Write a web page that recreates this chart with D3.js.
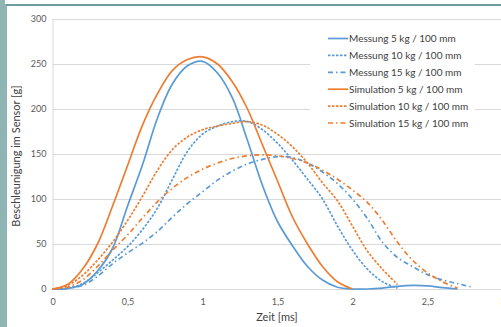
<!DOCTYPE html>
<html>
<head>
<meta charset="utf-8">
<script src="https://cdn.jsdelivr.net/npm/d3@7"></script>
<style>
  body { margin: 0; background: #fff; }
  text { font-family: Lato, "Open Sans", sans-serif; }
</style>
</head>
<body>
<div id="chart"></div>
<script>
// Zeitachse in ms (gemeinsames Raster)
var zeit = [0, 0.1, 0.2, 0.3, 0.4, 0.5, 0.6, 0.7, 0.8, 0.9, 1.0, 1.1, 1.2, 1.3, 1.4,
            1.5, 1.6, 1.7, 1.8, 1.9, 2.0, 2.1, 2.2, 2.3, 2.4, 2.5, 2.6, 2.7, 2.8, 2.9];

var messung5 = [0, 0.5, 5, 20, 45, 92, 138, 190, 228, 248, 253, 240, 212, 165, 115,
                75, 48, 25, 10, 2, 0, 0, 1, 3, 4, 3.5, 1.5, 0, null, null];
var messung10 = [0, 1, 6, 18, 32, 47, 66, 90, 122, 153, 172, 181, 186, 186, 177,
                 162, 143, 122, 100, 70, 43, 22, 8, 1, null, null, null, null, null, null];
var messung15 = [0, 1, 4, 14, 28, 40, 51, 64, 80, 95, 108, 121, 131, 139, 144,
                 147, 146, 140, 130, 117, 100, 78, 52, 35, 25, 16, 10, 6, 2, null];
var simulation5 = [0, 5, 22, 50, 92, 137, 182, 217, 243, 255, 258, 250, 230, 200, 160,
                   120, 80, 50, 25, 8, 0, null, null, null, null, null, null, null, null, null];
var simulation10 = [0, 4, 15, 32, 52, 76, 103, 132, 155, 169, 177, 181, 184, 186, 182,
                    172, 158, 140, 118, 98, 70, 42, 22, 5, null, null, null, null, null, null];
var simulation15 = [0, 2, 10, 25, 43, 60, 79, 97, 112, 124, 133, 140, 145, 148, 149,
                    148, 145, 140, 132, 122, 110, 96, 76, 52, 32, 18, 8, 1, null, null];

var serienNamen = ["Messung 5 kg / 100 mm", "Messung 10 kg / 100 mm", "Messung 15 kg / 100 mm",
                   "Simulation 5 kg / 100 mm", "Simulation 10 kg / 100 mm", "Simulation 15 kg / 100 mm"];
var serienWerte = [messung5, messung10, messung15, simulation5, simulation10, simulation15];

var xTicks = [0, 0.5, 1, 1.5, 2, 2.5, 3];
var yTicks = [0, 50, 100, 150, 200, 250, 300];

var width = 501;
var height = 327;
var blau = "#5b9bd5";
var orange = "#ed7d31";
var farben = [blau, blau, blau, orange, orange, orange];
var striche = [null, "2.5,1.5", "5,3,1.5,3", null, "2.5,1.5", "5,3,1.5,3"];

var svg = d3.select("#chart")
            .append("svg")
            .attr("width", width)
            .attr("height", height);

// Rahmen
svg.append("rect").attr("x", 0).attr("y", 0).attr("width", 5).attr("height", height).attr("fill", "#8fb4b4");
svg.append("line").attr("x1", 6).attr("x2", 6).attr("y1", 4).attr("y2", height).attr("stroke", "#6c9c9e").attr("stroke-width", 1.5);
svg.append("line").attr("x1", 6).attr("x2", width).attr("y1", 5).attr("y2", 5).attr("stroke", "#6c9c9e").attr("stroke-width", 2);

var x = d3.scaleLinear().domain([0, 3]).range([52.5, 502.5]);
var y = d3.scaleLinear().domain([0, 300]).range([289, 19]);

// Gitterlinien
svg.append("g")
    .selectAll("line")
    .data(yTicks)
    .enter()
    .append("line")
    .attr("x1", x(0))
    .attr("x2", width)
    .attr("y1", (d) => y(d) + 0.5)
    .attr("y2", (d) => y(d) + 0.5)
    .attr("stroke", "#d9d9d9")
    .attr("stroke-width", 1);

svg.append("line")
    .attr("x1", x(0) + 0.5).attr("x2", x(0) + 0.5)
    .attr("y1", y(300)).attr("y2", y(0))
    .attr("stroke", "#d9d9d9");

// Achsen
var yaxis = d3.axisLeft(y).tickValues(yTicks).tickSize(0).tickPadding(6);
var xaxis = d3.axisBottom(x).tickValues(xTicks).tickSize(0).tickPadding(10)
              .tickFormat((d) => String(d).replace(".", ","));

var gy = svg.append("g").attr("transform", "translate(" + x(0) + ",0)").call(yaxis);
var gx = svg.append("g").attr("transform", "translate(0," + y(0) + ")").call(xaxis);
[gx, gy].forEach(function(g) {
    g.select(".domain").remove();
    g.selectAll("text").attr("fill", "#595959").style("font-size", "9px");
});

svg.append("text")
    .attr("x", 277)
    .attr("y", 321)
    .attr("text-anchor", "middle")
    .attr("fill", "#404040")
    .style("font-size", "11px")
    .text("Zeit [ms]");

svg.append("text")
    .attr("transform", "translate(20,156) rotate(-90)")
    .attr("text-anchor", "middle")
    .attr("fill", "#404040")
    .style("font-size", "11px")
    .text("Beschleunigung im Sensor [g]");

// Kurven
var line = d3.line()
             .defined((d) => d[1] !== null)
             .x((d) => x(d[0]))
             .y((d) => y(Math.max(d[1], 0)))
             .curve(d3.curveCatmullRom.alpha(0.5));

svg.append("g")
    .selectAll("path")
    .data(serienWerte)
    .enter()
    .append("path")
    .attr("d", (d) => line(zeit.map((t, i) => [t, d[i]])))
    .attr("fill", "none")
    .attr("stroke", (d, i) => farben[i])
    .attr("stroke-width", 1.7)
    .attr("stroke-dasharray", (d, i) => striche[i]);

// Legende
var legende = svg.append("g");
legende.append("rect")
    .attr("x", 310).attr("y", 27).attr("width", 165).attr("height", 110)
    .attr("fill", "#fff");

var zeilen = legende.selectAll("g")
    .data(serienNamen)
    .enter()
    .append("g")
    .attr("transform", (d, i) => "translate(0," + (38.5 + i * 16.9) + ")");

zeilen.append("line")
    .attr("x1", 328).attr("x2", 348)
    .attr("y1", 0).attr("y2", 0)
    .attr("stroke", (d, i) => farben[i])
    .attr("stroke-width", 1.7)
    .attr("stroke-dasharray", (d, i) => striche[i]);

zeilen.append("text")
    .attr("x", 349)
    .attr("y", 3.5)
    .attr("fill", "#404040")
    .style("font-size", "10px")
    .text((d) => d);
</script>
</body>
</html>
